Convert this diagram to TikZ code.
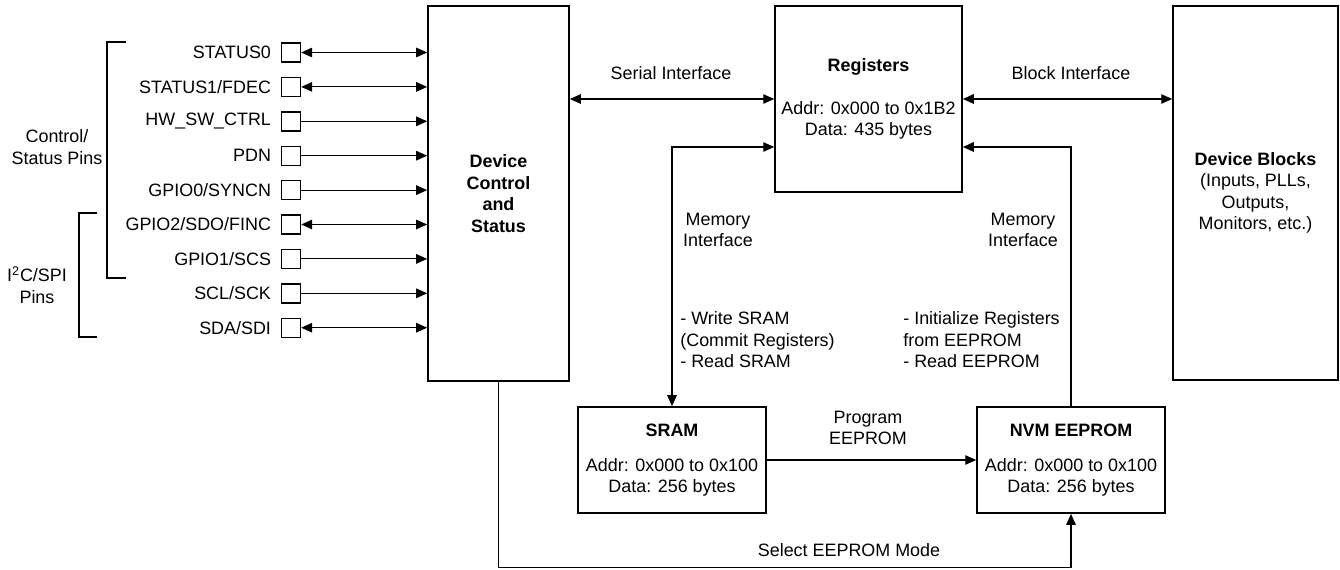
\documentclass[tikz,border=0pt]{standalone}
\usepackage{fontspec}
\setmainfont{Liberation Sans}
\usetikzlibrary{arrows.meta,positioning}
\tikzset{
  blockbox/.style={draw=black, line width=1pt, align=center, inner sep=0pt},
  pinbox/.style={draw=black, line width=0.8pt, minimum size=0.38cm, inner sep=0pt},
  pinlabel/.style={inner sep=0pt},
  flowarrow/.style={-{Triangle[length=6.2pt,width=5.4pt]}, line width=0.6pt},
  biarrow/.style={{Triangle[length=6.2pt,width=5.4pt]}-{Triangle[length=6.2pt,width=5.4pt]}, line width=0.6pt},
  plainline/.style={line width=0.6pt},
  note/.style={align=center, inner sep=0pt}
}
\begin{document}
\begin{tikzpicture}[x=0.02cm, y=-0.02cm, every node/.style={font=\fontsize{10.2}{12.2}\selectfont}]
    \useasboundingbox (0,0) rectangle (1340,569);
    \node[blockbox, minimum width=2.82cm, minimum height=7.5cm] (ctrl) at (498.5,193.5) {\textbf{Device}\\\textbf{Control}\\\textbf{and}\\\textbf{Status}};
    \node[blockbox, minimum width=3.74cm, minimum height=3.72cm] (regs) at (868.5,99) {\textbf{Registers}\\[12.3pt]Addr: 0x000 to 0x1B2\\Data: 435 bytes};
    \node[blockbox, minimum width=3.3cm, minimum height=7.48cm] (blocks) at (1255.5,193) {\textbf{Device Blocks}\\(Inputs, PLLs,\\Outputs,\\Monitors, etc.)};
    \node[blockbox, minimum width=3.76cm, minimum height=2.12cm] (sram) at (672,460) {\textbf{SRAM}\\[7.7pt]Addr: 0x000 to 0x100\\Data: 256 bytes};
    \node[blockbox, minimum width=3.76cm, minimum height=2.12cm] (nvm) at (1071,460) {\textbf{NVM EEPROM}\\[7.7pt]Addr: 0x000 to 0x100\\Data: 256 bytes};
    \foreach \lab [count=\i from 0] in {STATUS0,STATUS1/FDEC,HW\_SW\_CTRL,PDN,GPIO0/SYNCN,GPIO2/SDO/FINC,GPIO1/SCS,SCL/SCK,SDA/SDI} {
      \node[pinbox] (pin\i) at (291,{52.5+34.4*\i}) {};
      \node[pinlabel, left=0.19cm of pin\i] (lab\i) {\lab};
    }
    \foreach \i in {0,1,5,8}
      \draw[biarrow] (pin\i.east) -- (pin\i.east -| ctrl.west);
    \foreach \i in {2,3,4,6,7}
      \draw[flowarrow] (pin\i.east) -- (pin\i.east -| ctrl.west);
    \draw[plainline] (126,42) -- (107,42) -- (107,278) -- (126,278);
    \draw[plainline] (97,213) -- (79,213) -- (79,337) -- (97,337);
    \node[note] (ctlpins) at (57,147) {Control/\\Status Pins};
    \node[note] (buspins) at (37,285) {I\textsuperscript{2}C/SPI\\Pins};
    \draw[biarrow] (regs.west) -- (ctrl.east |- regs.west);
    \draw[biarrow] (regs.east) -- (blocks.west |- regs.east);
    \draw[biarrow] ([yshift=-0.96cm]regs.west) -| (sram.north);
    \draw[flowarrow] (nvm.north) |- ([yshift=-0.96cm]regs.east);
    \draw[flowarrow] (sram.east) -- (nvm.west);
    \draw[flowarrow] (ctrl.south) -- ++(0,186) -| (nvm.south);
    \node[note] (serial) at (671,73) {Serial Interface};
    \node[note] (blockif) at (1071,73) {Block Interface};
    \node[note] (memleft) at (718,230) {Memory\\Interface};
    \node[note] (memright) at (1023,230) {Memory\\Interface};
    \node[note, anchor=west, align=left] (sramops) at (680,340) {- Write SRAM\\(Commit Registers)\\- Read SRAM};
    \node[note, anchor=west, align=left] (nvmops) at (903,340) {- Initialize Registers\\from EEPROM\\- Read EEPROM};
    \node[note] (program) at (868,428) {Program\\EEPROM};
    \node[note] (select) at (849,550) {Select EEPROM Mode};
  \end{tikzpicture}
\end{document}
